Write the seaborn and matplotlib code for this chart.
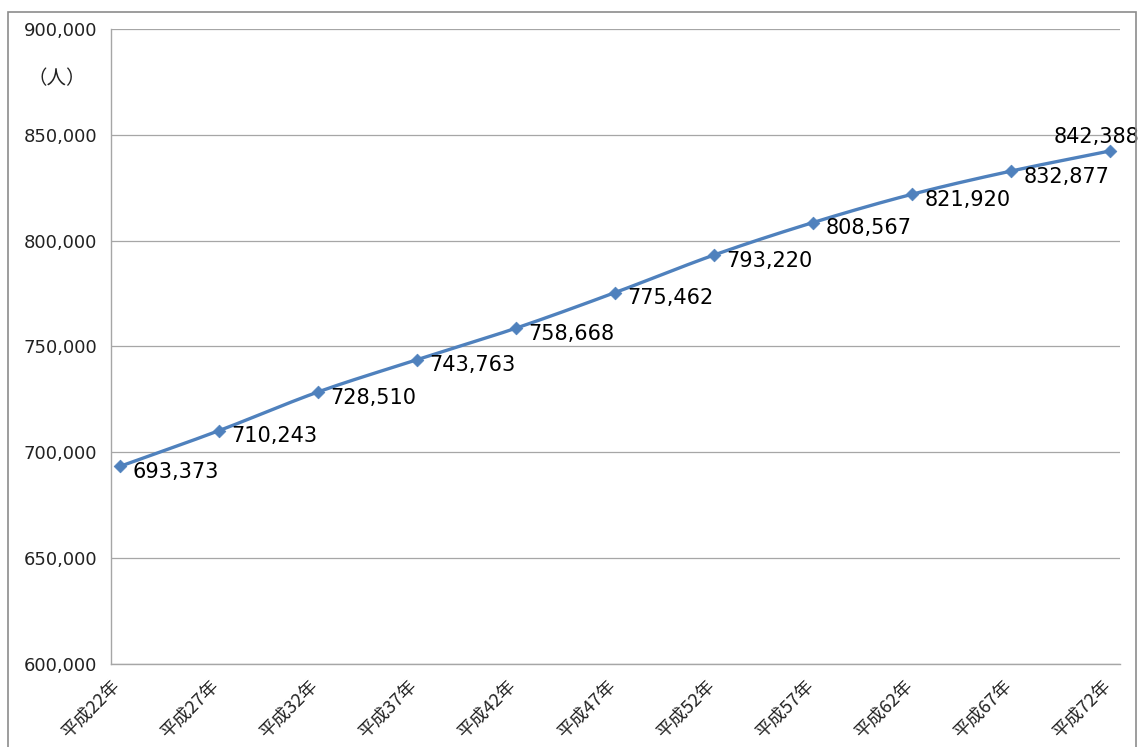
import numpy as np
import pandas as pd
import matplotlib
matplotlib.use("Agg")
import matplotlib.pyplot as plt
import matplotlib.transforms as mtransforms
import seaborn as sns
from matplotlib.patches import Rectangle

# Projected population by year
years = ["平成22年", "平成27年", "平成32年", "平成37年", "平成42年", "平成47年",
         "平成52年", "平成57年", "平成62年", "平成67年", "平成72年"]
population = [693373, 710243, 728510, 743763, 758668, 775462,
              793220, 808567, 821920, 832877, 842388]
y_ticks = [600000, 650000, 700000, 750000, 800000, 850000, 900000]

sns.set_theme(style="white")
plt.rcParams["font.family"] = ["Noto Sans CJK JP", "DejaVu Sans"]

LINE = "#4F81BD"
GRID = "#A6A6A6"
NUM_FONT = ["DejaVu Sans"]

df = pd.DataFrame({"pos": np.arange(len(years)), "pop": population, "year": years})

fig = plt.figure(figsize=(11.41, 7.47), dpi=100)
ax = fig.add_axes([0.0973, 0.1111, 0.8843, 0.8501])

# Smoothed connecting curve (Catmull-Rom through the data points)
def catmull_rom(x, y, n=30):
    x = np.asarray(x, float); y = np.asarray(y, float)
    px = np.concatenate([[2 * x[0] - x[1]], x, [2 * x[-1] - x[-2]]])
    py = np.concatenate([[2 * y[0] - y[1]], y, [2 * y[-1] - y[-2]]])
    xs, ys = [], []
    t = np.linspace(0, 1, n, endpoint=False)
    for i in range(1, len(px) - 2):
        for arr, out in ((px, xs), (py, ys)):
            p0, p1, p2, p3 = arr[i - 1], arr[i], arr[i + 1], arr[i + 2]
            out.extend(0.5 * ((2 * p1) + (-p0 + p2) * t
                              + (2 * p0 - 5 * p1 + 4 * p2 - p3) * t ** 2
                              + (-p0 + 3 * p1 - 3 * p2 + p3) * t ** 3))
    xs.append(x[-1]); ys.append(y[-1])
    return np.array(xs), np.array(ys)

sx, sy = catmull_rom(df["pos"], df["pop"])
curve = pd.DataFrame({"x": sx, "y": sy})
sns.lineplot(data=curve, x="x", y="y", ax=ax, color=LINE, linewidth=2.4,
             sort=False, estimator=None)
sns.scatterplot(data=df, x="pos", y="pop", ax=ax, color=LINE, marker="D",
                s=42, edgecolor=LINE, linewidth=0.5, zorder=5)

# Value labels
for i, (p, v) in enumerate(zip(df["pos"], df["pop"])):
    if i == len(df) - 1:
        ax.annotate(f"{v:,}", (p, v), xytext=(-9.5, 10), textcoords="offset points",
                    ha="center", va="center", fontsize=15, color="black",
                    family=NUM_FONT)
    else:
        ax.annotate(f"{v:,}", (p, v), xytext=(9, -4), textcoords="offset points",
                    ha="left", va="center", fontsize=15, color="black",
                    family=NUM_FONT)

ax.set_ylim(600000, 900000)
ax.set_yticks(y_ticks)
ax.set_yticklabels([f"{t:,}" for t in y_ticks], fontsize=13, color="#222222",
                   family=NUM_FONT)
ax.set_xlim(-0.09, 10.1)
ax.set_xticks(df["pos"] - 0.09)
ax.set_xticklabels(years, rotation=45, ha="right", rotation_mode="anchor",
                   fontsize=13, color="#222222")
shift = mtransforms.ScaledTranslation(7 / 100, 0, fig.dpi_scale_trans)
for lbl in ax.get_xticklabels():
    lbl.set_transform(lbl.get_transform() + shift)
ax.set_xlabel("")
ax.set_ylabel("")

ax.yaxis.grid(True, color=GRID, linewidth=0.9)
ax.xaxis.grid(False)
for side in ("top", "right"):
    ax.spines[side].set_visible(False)
for side in ("left", "bottom"):
    ax.spines[side].set_color(GRID)
    ax.spines[side].set_linewidth(1.0)
ax.tick_params(axis="both", which="both", direction="out", length=6,
               color=GRID, width=0.9)
ax.tick_params(axis="y", pad=4)
ax.tick_params(axis="x", pad=3)

# Unit label
fig.text(57 / 1141, 1 - 79 / 747, "（人）", fontsize=14, ha="center", va="center",
         color="#222222")

# Chart frame
fig.patches.append(Rectangle((8 / 1141, -0.01), (1136 - 8) / 1141, 1 - 12 / 747 + 0.01,
                             transform=fig.transFigure, fill=False,
                             edgecolor="#8C8C8C", linewidth=1.2))

fig.savefig("out.png", dpi=100, facecolor="white")
